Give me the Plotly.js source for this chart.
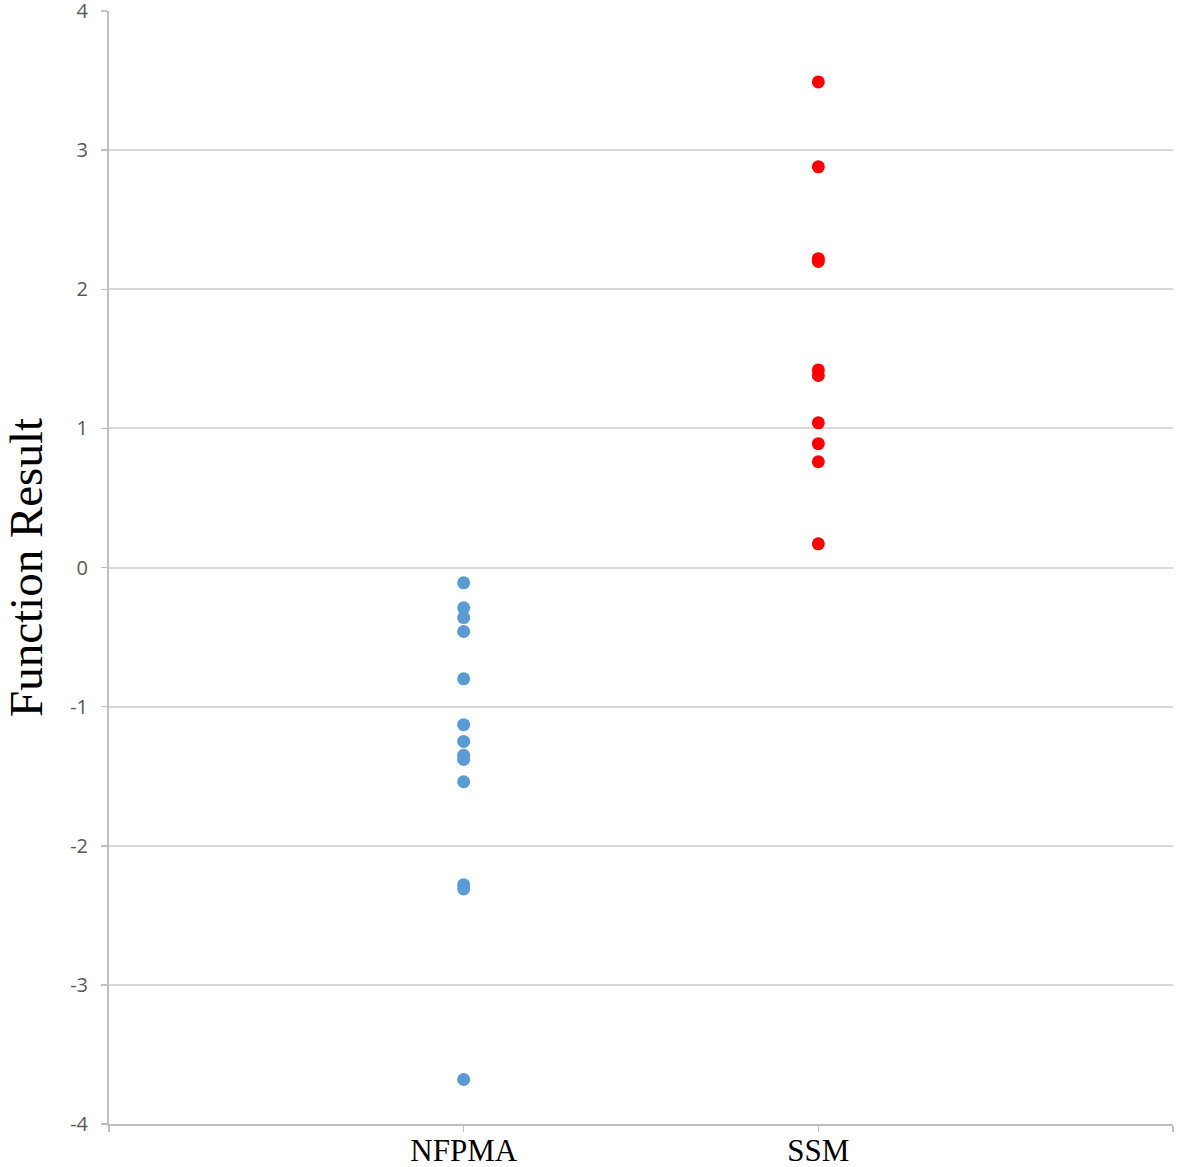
<!DOCTYPE html>
<html>
<head>
<meta charset="utf-8">
<script src="https://cdn.plot.ly/plotly-3.0.1.min.js"></script>
<style>html,body{margin:0;padding:0;background:#fff;}#chart{width:1181px;height:1167px;}</style>
</head>
<body>
<div id="chart"></div>
<script>
// Category tick labels
const categories = ["NFPMA", "SSM"];
const categoryPositions = [1, 2];

// Function result values
const nfpmaValues = [-0.11, -0.29, -0.36, -0.46, -0.80, -1.13, -1.25, -1.35, -1.38, -1.54, -2.28, -2.31, -3.68];
const ssmValues = [3.49, 2.88, 2.22, 2.20, 1.42, 1.38, 1.04, 0.89, 0.76, 0.17];

const yTicks = [-4, -3, -2, -1, 0, 1, 2, 3, 4];
const yTickLabels = ["-4", "-3", "-2", "-1", "0", "1", "2", "3", "4"];

const traces = [
  {
    type: "scatter", mode: "markers", name: categories[0],
    x: nfpmaValues.map(() => categoryPositions[0]), y: nfpmaValues,
    marker: {color: "#5B9BD5", size: 13}
  },
  {
    type: "scatter", mode: "markers", name: categories[1],
    x: ssmValues.map(() => categoryPositions[1]), y: ssmValues,
    marker: {color: "#FF0000", size: 13}
  }
];

const layout = {
  width: 1181, height: 1167,
  margin: {l: 109, r: 8, t: 11, b: 43},
  paper_bgcolor: "#ffffff", plot_bgcolor: "#ffffff",
  showlegend: false,
  xaxis: {
    range: [0, 3],
    tickvals: [0, 1, 2, 3],
    ticktext: ["", categories[0], categories[1], ""],
    showgrid: false, zeroline: false,
    showline: true, linecolor: "#BFBFBF", linewidth: 2,
    ticks: "outside", ticklen: 6, tickcolor: "#BFBFBF", tickwidth: 1.5,
    tickfont: {family: "Liberation Serif, Times New Roman, serif", size: 31, color: "#000"},
    ticklabelstandoff: -8,
    ticklabeloverflow: "allow"
  },
  yaxis: {
    range: [-4, 4],
    tickvals: yTicks,
    ticktext: yTickLabels,
    showgrid: true, gridcolor: "#D9D9D9", gridwidth: 2,
    zeroline: false,
    showline: true, linecolor: "#BFBFBF", linewidth: 2,
    ticks: "outside", ticklen: 6, tickcolor: "#BFBFBF", tickwidth: 1.5,
    tickfont: {family: "Open Sans, sans-serif", size: 20, color: "#595959"},
    ticklabelstandoff: 9,
    ticklabeloverflow: "allow",
    title: {text: "Function Result", font: {family: "Liberation Serif, Times New Roman, serif", size: 47, color: "#000"}, standoff: 20}
  }
};

Plotly.newPlot("chart", traces, layout, {displayModeBar: false, staticPlot: true});
</script>
</body>
</html>
